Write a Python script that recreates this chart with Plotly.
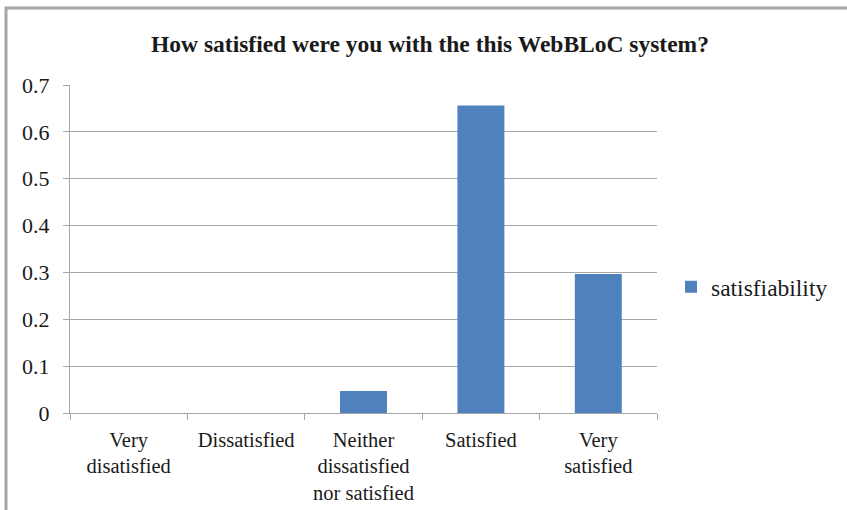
import plotly.graph_objects as go

# Survey responses (share of respondents per answer)
categories = [
    "Very<br>disatisfied",
    "Dissatisfied",
    "Neither<br>dissatisfied<br>nor satisfied",
    "Satisfied",
    "Very<br>satisfied",
]
satisfiability = [0.0, 0.0, 0.046875, 0.65625, 0.296875]
y_ticks = [0, 0.1, 0.2, 0.3, 0.4, 0.5, 0.6, 0.7]
y_tick_labels = ["0", "0.1", "0.2", "0.3", "0.4", "0.5", "0.6", "0.7"]

SERIF = "Liberation Serif, Times New Roman, serif"
GRID = "#a6a6a6"

W, H = 847, 510
ML, MR, MT, MB = 70, 190, 85, 97
PW, PH = W - ML - MR, H - MT - MB


def px_x(px):
    return (px - ML) / PW


def px_y(py):
    return (H - MB - py) / PH


fig = go.Figure()
fig.add_trace(go.Bar(
    x=categories,
    y=satisfiability,
    name="satisfiability",
    marker=dict(color="#4f81bd", line=dict(width=0)),
    width=0.4,
))

# chart-area frame (left and top edges)
fig.add_shape(type="line", xref="paper", yref="paper",
              x0=px_x(6), x1=px_x(6), y0=px_y(7), y1=px_y(515),
              line=dict(color="#a6a6a6", width=3))
fig.add_shape(type="line", xref="paper", yref="paper",
              x0=px_x(5), x1=px_x(850), y0=px_y(8), y1=px_y(8),
              line=dict(color="#a6a6a6", width=3))

fig.update_layout(
    width=W, height=H,
    margin=dict(l=ML, r=MR, t=MT, b=MB),
    paper_bgcolor="white", plot_bgcolor="white",
    font=dict(family=SERIF, size=18, color="#1a1a1a"),
    title=dict(
        text="<b>How satisfied were you with the this WebBLoC system?</b>",
        x=430 / W, xref="container", xanchor="center",
        y=1 - 44 / H, yref="container", yanchor="middle",
        font=dict(family=SERIF, size=23.5, color="#1a1a1a"),
    ),
    showlegend=True,
    legend=dict(
        x=px_x(671), xanchor="left",
        y=px_y(287), yanchor="middle",
        font=dict(family=SERIF, size=23.5),
        bgcolor="rgba(0,0,0,0)",
    ),
    xaxis=dict(
        type="category",
        automargin=False,
        showline=True, linecolor=GRID, linewidth=1,
        ticks="outside", ticklen=6, tickcolor=GRID,
        tickson="boundaries",
        showgrid=False,
        tickfont=dict(family=SERIF, size=20.5),
        ticklabelstandoff=8,
    ),
    yaxis=dict(
        range=[0, 0.7],
        automargin=False,
        tickvals=y_ticks, ticktext=y_tick_labels,
        showline=True, linecolor=GRID, linewidth=1,
        ticks="outside", ticklen=6, tickcolor=GRID,
        showgrid=True, gridcolor=GRID, gridwidth=1,
        zeroline=False,
        tickfont=dict(family=SERIF, size=22),
        ticklabelstandoff=9,
    ),
    bargap=0.6,
)

fig.write_html("out.html")
